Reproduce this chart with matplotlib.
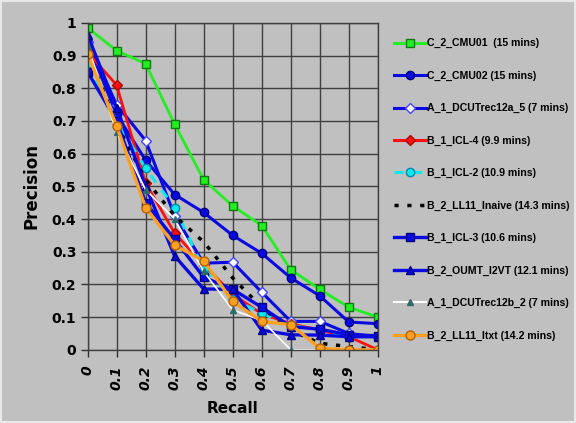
import numpy as np
import matplotlib.pyplot as plt
from matplotlib.patches import Rectangle

recall = [0, 0.1, 0.2, 0.3, 0.4, 0.5, 0.6, 0.7, 0.8, 0.9, 1]
xtick_labels = ["0", "0.1", "0.2", "0.3", "0.4", "0.5", "0.6", "0.7", "0.8", "0.9", "1"]
ytick_labels = ["0", "0.1", "0.2", "0.3", "0.4", "0.5", "0.6", "0.7", "0.8", "0.9", "1"]

names = ["C_2_CMU01  (15 mins)", "C_2_CMU02 (15 mins)", "A_1_DCUTrec12a_5 (7 mins)",
         "B_1_ICL-4 (9.9 mins)", "B_1_ICL-2 (10.9 mins)", "B_2_LL11_Inaive (14.3 mins)",
         "B_1_ICL-3 (10.6 mins)", "B_2_OUMT_I2VT (12.1 mins)", "A_1_DCUTrec12b_2 (7 mins)",
         "B_2_LL11_Itxt (14.2 mins)"]

cmu01 = [0.985, 0.915, 0.875, 0.69, 0.52, 0.44, 0.38, 0.245, 0.185, 0.13, 0.10]
cmu02 = [0.94, 0.72, 0.58, 0.475, 0.42, 0.35, 0.295, 0.22, 0.165, 0.085, 0.08]
dcu12a = [0.94, 0.75, 0.64, 0.41, 0.265, 0.268, 0.176, 0.087, 0.087, 0.05, 0.04]
icl4 = [0.91, 0.81, 0.51, 0.357, 0.26, 0.17, 0.11, 0.08, 0.06, 0.04, 0.0]
icl2 = [0.875, 0.70, 0.555, 0.435, 0.247, 0.155, 0.112, 0.075, 0.06, 0.04, 0.04]
inaive = [0.91, 0.69, 0.52, 0.41, 0.33, 0.22, 0.13, 0.06, 0.02, 0.01, 0.0]
icl3 = [0.85, 0.70, 0.45, 0.338, 0.222, 0.185, 0.13, 0.071, 0.063, 0.046, 0.043]
oumt = [0.963, 0.74, 0.50, 0.287, 0.186, 0.185, 0.06, 0.046, 0.045, 0.04, 0.04]
dcu12b = [0.93, 0.665, 0.49, 0.40, 0.24, 0.122, 0.09, 0.0, 0.0, 0.0, 0.0]
itxt = [0.905, 0.685, 0.435, 0.32, 0.272, 0.148, 0.087, 0.077, 0.005, 0.0, 0.0]

bg = "#c0c0c0"
blue = "#0a0ae0"

fig = plt.figure(figsize=(5.76, 4.23), dpi=100, facecolor=bg)
fig.patches.append(Rectangle((0.002, 0.002), 0.996, 0.996, transform=fig.transFigure,
                             fill=False, edgecolor="#e8e8e8", lw=1.5))
ax = fig.add_axes([0.152, 0.173, 0.504, 0.773], facecolor=bg)

ax.plot(recall, cmu01, color="#22ee22", lw=2, marker="s", ms=6,
        mfc="#22ee22", mec="#117711", mew=1, label=names[0])
ax.plot(recall, cmu02, color=blue, lw=2.2, marker="o", ms=6,
        mfc=blue, mec="#000080", label=names[1])
ax.plot(recall, dcu12a, color=blue, lw=2.2, marker="D", ms=5,
        mfc="white", mec="#4444ff", label=names[2])
ax.plot(recall, icl4, color="#ff1010", lw=2, marker="D", ms=5,
        mfc="#ff1010", mec="#aa0000", label=names[3])
ax.plot(recall, icl2, color="#10e8f0", lw=2.2, ls=(0, (3, 3)), marker="o", ms=6,
        mfc="#10e8f0", mec="#0088aa", label=names[4])
ax.plot(recall, inaive, color="black", lw=2.5, ls=(0, (1.2, 2.5)), label=names[5])
ax.plot(recall, icl3, color=blue, lw=2.4, marker="s", ms=6,
        mfc=blue, mec="#000080", label=names[6])
ax.plot(recall, oumt, color=blue, lw=2.4, marker="^", ms=6,
        mfc=blue, mec="#000080", label=names[7])
ax.plot(recall, dcu12b, color="white", lw=1.2, marker="^", ms=4,
        mfc="#2f6a6a", mec="#2f6a6a", label=names[8])
ax.plot(recall, itxt, color="#ffa020", lw=2.4, marker="o", ms=6.5,
        mfc="#ffa020", mec="#b06000", label=names[9])

ax.set_xlim(0, 1)
ax.set_ylim(0, 1)
ax.set_xticks(recall)
ax.set_yticks(np.arange(0, 1.01, 0.1))
ax.set_xticklabels(xtick_labels, rotation=90, fontstyle="italic", fontweight="bold",
                   fontsize=10, family="DejaVu Sans", va="top")
ax.set_yticklabels(ytick_labels, fontweight="bold", fontsize=10, family="DejaVu Sans")
ax.tick_params(axis="both", length=5, width=1, color="#303030")
ax.tick_params(axis="x", pad=6)
ax.tick_params(axis="y", pad=3)
ax.grid(True, color="#404040", lw=1)
for s in ax.spines.values():
    s.set_color("#404040")
    s.set_linewidth(1)

ax.set_xlabel("Recall", fontsize=11, fontweight="bold", family="DejaVu Sans", labelpad=8)
ax.set_ylabel("Precision", fontsize=12, fontweight="bold", family="DejaVu Sans", labelpad=8)

# legend text is narrow, so keep it small to fit right of the plot
leg = fig.legend(loc="upper left", bbox_to_anchor=(390 / 576, 1 - 34 / 423), frameon=False,
                 prop={"family": "Liberation Sans", "weight": "bold", "size": 7.6},
                 handlelength=3.0, handletextpad=0.1, labelspacing=2.12, borderaxespad=0)
for h in leg.legend_handles:
    h.set_linewidth(max(h.get_linewidth(), 2.2) if h.get_color() != "white" else 1.5)

fig.savefig("out.png", dpi=100, facecolor=bg)
